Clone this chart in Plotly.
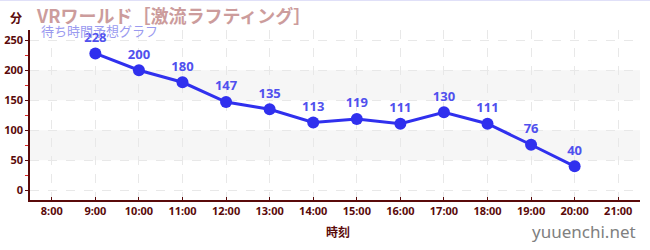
import plotly.graph_objects as go

hours = [9, 10, 11, 12, 13, 14, 15, 16, 17, 18, 19, 20]
waits = [228, 200, 180, 147, 135, 113, 119, 111, 130, 111, 76, 40]
tick_hours = list(range(8, 22))
tick_labels = [f"{h}:00" for h in tick_hours]
y_ticks = [0, 50, 100, 150, 200, 250]
bands = [(50, 100), (150, 200)]

maroon = "#5a0a0a"
jp = "Noto Sans CJK JP"

fig = go.Figure()

for lo, hi in bands:
    fig.add_shape(type="rect", xref="paper", yref="y", x0=0, x1=1, y0=lo, y1=hi,
                  fillcolor="#f6f6f6", line_width=0, layer="below")

fig.add_trace(go.Scatter(
    x=hours, y=waits, mode="lines+markers+text",
    line=dict(color="#3030ee", width=3),
    marker=dict(color="#3030ee", size=12),
    text=[str(v) for v in waits], textposition="top center",
    textfont=dict(color="#5050ee", size=13, family="Noto Sans, sans-serif", weight="bold"),
    cliponaxis=False, hoverinfo="skip", showlegend=False,
))

PH = 170.0  # plot height in px


def py(pix):
    return (200 - pix) / PH


fig.update_layout(
    width=650, height=250,
    margin=dict(l=30, r=10, t=30, b=50, autoexpand=False),
    paper_bgcolor="white", plot_bgcolor="white",
    xaxis=dict(range=[7.5, 21.5], tickvals=tick_hours, ticktext=tick_labels,
               showgrid=True, gridcolor="#e8e8e8", griddash="dash", gridwidth=1,
               showline=True, linecolor=maroon, linewidth=1.5,
               ticks="inside", ticklen=3, tickcolor=maroon,
               tickfont=dict(color=maroon, size=11, family="Noto Sans, sans-serif", weight="bold"),
               zeroline=False, fixedrange=True, automargin=False),
    yaxis=dict(range=[-16, 267], tickvals=y_ticks,
               showgrid=True, gridcolor="#e8e8e8", griddash="dash", gridwidth=1,
               showline=True, linecolor=maroon, linewidth=1.5,
               ticks="outside", ticklen=3, tickcolor=maroon,
               minor=dict(tickvals=[25, 75, 125, 175, 225], ticks="outside", ticklen=3, tickcolor="#dd2222", showgrid=False),
               tickfont=dict(color=maroon, size=11, family="Noto Sans, sans-serif", weight="bold"),
               zeroline=False, fixedrange=True, automargin=False),
    font=dict(family=jp),
)

fig.add_shape(type="line", xref="paper", yref="paper", x0=-1, x1=2, y0=py(0.5), y1=py(0.5),
              line=dict(color="#e0e0f8", width=1))

fig.add_annotation(text="<b>分</b>", xref="paper", yref="paper", x=(8 - 30) / 610.0, y=py(17),
                   xanchor="left", yanchor="middle", showarrow=False,
                   font=dict(color=maroon, size=12, family=jp))
fig.add_annotation(text="<b>VRワールド［激流ラフティング］</b>", xref="paper", yref="paper",
                   x=(34 - 30) / 610.0, y=py(15), xanchor="left", yanchor="middle", showarrow=False,
                   font=dict(color="#cc9c9c", size=18, family=jp))
fig.add_annotation(text="待ち時間予想グラフ", xref="paper", yref="paper",
                   x=(39 - 30) / 610.0, y=py(31), xanchor="left", yanchor="middle", showarrow=False,
                   font=dict(color="#9a9af0", size=13, family=jp))
fig.add_annotation(text="<b>時刻</b>", xref="paper", yref="paper",
                   x=(338 - 30) / 610.0, y=py(231), xanchor="center", yanchor="middle", showarrow=False,
                   font=dict(color=maroon, size=12, family=jp))
fig.add_annotation(text="yuuenchi.net", xref="paper", yref="paper",
                   x=(638 - 30) / 610.0, y=py(231), xanchor="right", yanchor="middle", showarrow=False,
                   font=dict(color="#808080", size=17, family="Noto Sans, sans-serif"))

fig.write_html("out.html")
